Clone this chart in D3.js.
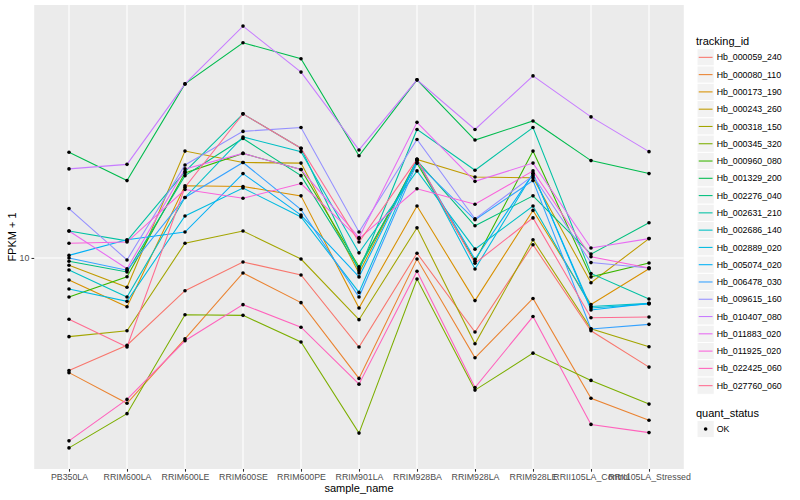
<!DOCTYPE html>
<html>
<head>
<meta charset="utf-8">
<script src="https://cdnjs.cloudflare.com/ajax/libs/d3/7.8.5/d3.min.js"></script>
<style>
  body { margin: 0; background: #fff; }
  svg { display: block; }
  text { font-family: "Liberation Sans", Arial, Helvetica, sans-serif; }
</style>
</head>
<body>
<div id="chart"></div>
<script>
// values (FPKM + 1, log scale)
const samples = ['PB350LA', 'RRIM600LA', 'RRIM600LE', 'RRIM600SE', 'RRIM600PE', 'RRIM901LA',
    'RRIM928BA', 'RRIM928LA', 'RRIM928LE', 'RRII105LA_Control', 'RRII105LA_Stressed'];

const trackingIds = ['Hb_000059_240', 'Hb_000080_110', 'Hb_000173_190', 'Hb_000243_260', 'Hb_000318_150',
    'Hb_000345_320', 'Hb_000960_080', 'Hb_001329_200', 'Hb_002276_040', 'Hb_002631_210',
    'Hb_002686_140', 'Hb_002889_020', 'Hb_005074_020', 'Hb_006478_030', 'Hb_009615_160',
    'Hb_010407_080', 'Hb_011883_020', 'Hb_011925_020', 'Hb_022425_060', 'Hb_027760_060'];

// one row per tracking_id, one column per sample
const fpkmPlusOne = [
    [4.22, 5.12, 7.78, 9.70, 8.78, 5.05, 10.37, 5.67, 11.07, 5.72, 4.33],
    [4.15, 3.28, 5.38, 8.91, 7.10, 3.97, 9.92, 4.65, 7.33, 3.41, 2.88],
    [8.45, 6.88, 17.4, 17.3, 16.1, 6.81, 14.9, 7.21, 14.4, 7.00, 9.21],
    [9.46, 7.99, 22.7, 20.8, 20.7, 8.91, 21.3, 18.6, 18.5, 8.27, 11.6],
    [5.47, 5.72, 11.2, 12.3, 9.92, 6.23, 12.6, 5.18, 11.5, 5.81, 5.06],
    [2.33, 3.03, 6.47, 6.44, 5.25, 2.61, 8.51, 3.63, 4.82, 3.91, 3.26],
    [7.41, 8.66, 19.2, 22.3, 19.7, 9.35, 20.7, 9.75, 22.7, 8.65, 9.62],
    [22.5, 18.1, 38.0, 52.1, 46.1, 21.9, 39.2, 24.7, 28.6, 21.1, 19.1],
    [9.75, 8.98, 18.8, 25.0, 18.8, 9.21, 21.1, 12.8, 16.1, 10.3, 13.1],
    [12.3, 11.4, 19.4, 30.2, 23.2, 9.07, 26.8, 19.6, 27.2, 8.88, 7.30],
    [9.12, 7.41, 15.9, 25.3, 22.6, 10.4, 19.5, 10.7, 14.9, 6.89, 7.06],
    [7.88, 7.17, 13.8, 17.1, 13.7, 7.68, 21.3, 9.19, 19.1, 6.81, 7.03],
    [10.2, 11.5, 12.2, 19.1, 13.9, 8.65, 21.1, 9.90, 19.1, 6.71, 7.06],
    [10.0, 9.10, 15.9, 20.8, 14.5, 7.41, 20.7, 13.4, 18.1, 5.80, 6.01],
    [14.6, 9.85, 20.4, 26.4, 27.2, 12.2, 24.8, 13.5, 18.8, 9.65, 9.26],
    [19.8, 20.5, 38.0, 59.2, 41.6, 22.9, 39.2, 26.8, 40.4, 29.5, 22.6],
    [12.3, 9.21, 19.8, 22.3, 19.7, 11.7, 28.3, 18.0, 20.7, 10.8, 11.6],
    [11.2, 11.3, 16.9, 15.8, 17.7, 11.6, 17.0, 15.1, 19.5, 10.1, 9.26],
    [2.46, 3.38, 5.30, 6.99, 5.88, 3.80, 9.03, 3.70, 6.38, 2.79, 2.62],
    [6.25, 5.05, 17.2, 30.2, 23.2, 11.3, 21.3, 9.60, 13.6, 6.32, 6.36]
];

const quantStatus = ['OK'];
const yTicks = [10];

// ggplot default hue palette for 20 levels
const palette = ['#F8766D', '#EA8331', '#D89000', '#C09B00', '#A3A500', '#7CAE00', '#39B600', '#00BB4E',
    '#00BF7D', '#00C1A3', '#00BFC4', '#00BAE0', '#00B0F6', '#35A2FF', '#9590FF', '#C77CFF',
    '#E76BF3', '#FA62DB', '#FF62BC', '#FF6C91'];

const width = 800, height = 500;
const panel = { left: 34.2, right: 683.8, top: 5, bottom: 469 };

const series = trackingIds.map((id, i) => ({
    id: id,
    color: palette[i],
    values: samples.map((s, j) => ({ sample: s, value: fpkmPlusOne[i][j] }))
}));

const svg = d3.select('#chart').append('svg')
    .attr('width', width)
    .attr('height', height);

svg.append('rect').attr('width', width).attr('height', height).attr('fill', '#fff');

// scales
const x = d3.scalePoint()
    .domain(samples)
    .range([panel.left, panel.right])
    .padding(0.6);

const logExtent = d3.extent(fpkmPlusOne.flat(), v => Math.log10(v));
const pad = (logExtent[1] - logExtent[0]) * 0.05;
const y = d3.scaleLog()
    .domain([10 ** (logExtent[0] - pad), 10 ** (logExtent[1] + pad)])
    .range([panel.bottom, panel.top]);

// panel background + grid
svg.append('rect')
    .attr('x', panel.left).attr('y', panel.top)
    .attr('width', panel.right - panel.left).attr('height', panel.bottom - panel.top)
    .attr('fill', '#EBEBEB');

const grid = svg.append('g').attr('stroke', '#fff').attr('stroke-width', 1.07);
grid.selectAll('.hgrid').data(yTicks).enter().append('line')
    .attr('x1', panel.left).attr('x2', panel.right)
    .attr('y1', d => y(d)).attr('y2', d => y(d));
grid.selectAll('.vgrid').data(samples).enter().append('line')
    .attr('x1', d => x(d)).attr('x2', d => x(d))
    .attr('y1', panel.top).attr('y2', panel.bottom);

// lines
const line = d3.line()
    .x(d => x(d.sample))
    .y(d => y(d.value));

svg.append('g').selectAll('path')
    .data(series)
    .enter().append('path')
    .attr('d', d => line(d.values))
    .attr('fill', 'none')
    .attr('stroke', d => d.color)
    .attr('stroke-width', 1.07);

// points
svg.append('g').selectAll('circle')
    .data(series.flatMap(s => s.values))
    .enter().append('circle')
    .attr('cx', d => x(d.sample))
    .attr('cy', d => y(d.value))
    .attr('r', 1.8)
    .attr('fill', '#000');

// axes
function styleAxis(g) {
    g.select('.domain').remove();
    g.selectAll('.tick line').attr('stroke', '#333').attr('stroke-width', 1.07);
    g.selectAll('.tick text').attr('fill', '#4D4D4D').style('font-size', '8.8px')
        .style('font-family', '"Liberation Sans", Arial, sans-serif');
}

svg.append('g')
    .attr('transform', `translate(${panel.left},0)`)
    .call(d3.axisLeft(y).tickValues(yTicks).tickFormat(d3.format('d')).tickSize(2.7).tickPadding(2.2))
    .call(styleAxis);

svg.append('g')
    .attr('transform', `translate(0,${panel.bottom})`)
    .call(d3.axisBottom(x).tickSize(2.7).tickPadding(2.2))
    .call(styleAxis);

// axis titles
svg.append('text')
    .attr('x', (panel.left + panel.right) / 2)
    .attr('y', 492)
    .attr('text-anchor', 'middle')
    .style('font-size', '11px')
    .text('sample_name');

svg.append('text')
    .attr('transform', `translate(16,${(panel.top + panel.bottom) / 2}) rotate(-90)`)
    .attr('text-anchor', 'middle')
    .style('font-size', '11px')
    .text('FPKM + 1');

// legend: tracking_id
const legendX = 697, keySize = 17.28;
const legend = svg.append('g');
legend.append('text')
    .attr('x', 696).attr('y', 44.5)
    .style('font-size', '11px')
    .text('tracking_id');

const rows = legend.selectAll('.row')
    .data(series)
    .enter().append('g')
    .attr('transform', (d, i) => `translate(${legendX},${48.7 + i * keySize})`);

rows.append('rect')
    .attr('width', keySize).attr('height', keySize)
    .attr('fill', '#F2F2F2').attr('stroke', '#fff').attr('stroke-width', 1);
rows.append('line')
    .attr('x1', keySize * 0.1).attr('x2', keySize * 0.9)
    .attr('y1', keySize / 2).attr('y2', keySize / 2)
    .attr('stroke', d => d.color).attr('stroke-width', 1.07);
rows.append('text')
    .attr('x', 19.7).attr('y', keySize / 2 + 3.1)
    .style('font-size', '8.8px')
    .text(d => d.id);

// legend: quant_status
legend.append('text')
    .attr('x', 696).attr('y', 416.5)
    .style('font-size', '11px')
    .text('quant_status');

const qrows = legend.selectAll('.qrow')
    .data(quantStatus)
    .enter().append('g')
    .attr('transform', (d, i) => `translate(${legendX},${420.4 + i * keySize})`);
qrows.append('rect')
    .attr('width', keySize).attr('height', keySize)
    .attr('fill', '#F2F2F2').attr('stroke', '#fff').attr('stroke-width', 1);
qrows.append('circle')
    .attr('cx', keySize / 2).attr('cy', keySize / 2).attr('r', 1.8).attr('fill', '#000');
qrows.append('text')
    .attr('x', 19.7).attr('y', keySize / 2 + 3.1)
    .style('font-size', '8.8px')
    .text(d => d);
</script>
</body>
</html>
